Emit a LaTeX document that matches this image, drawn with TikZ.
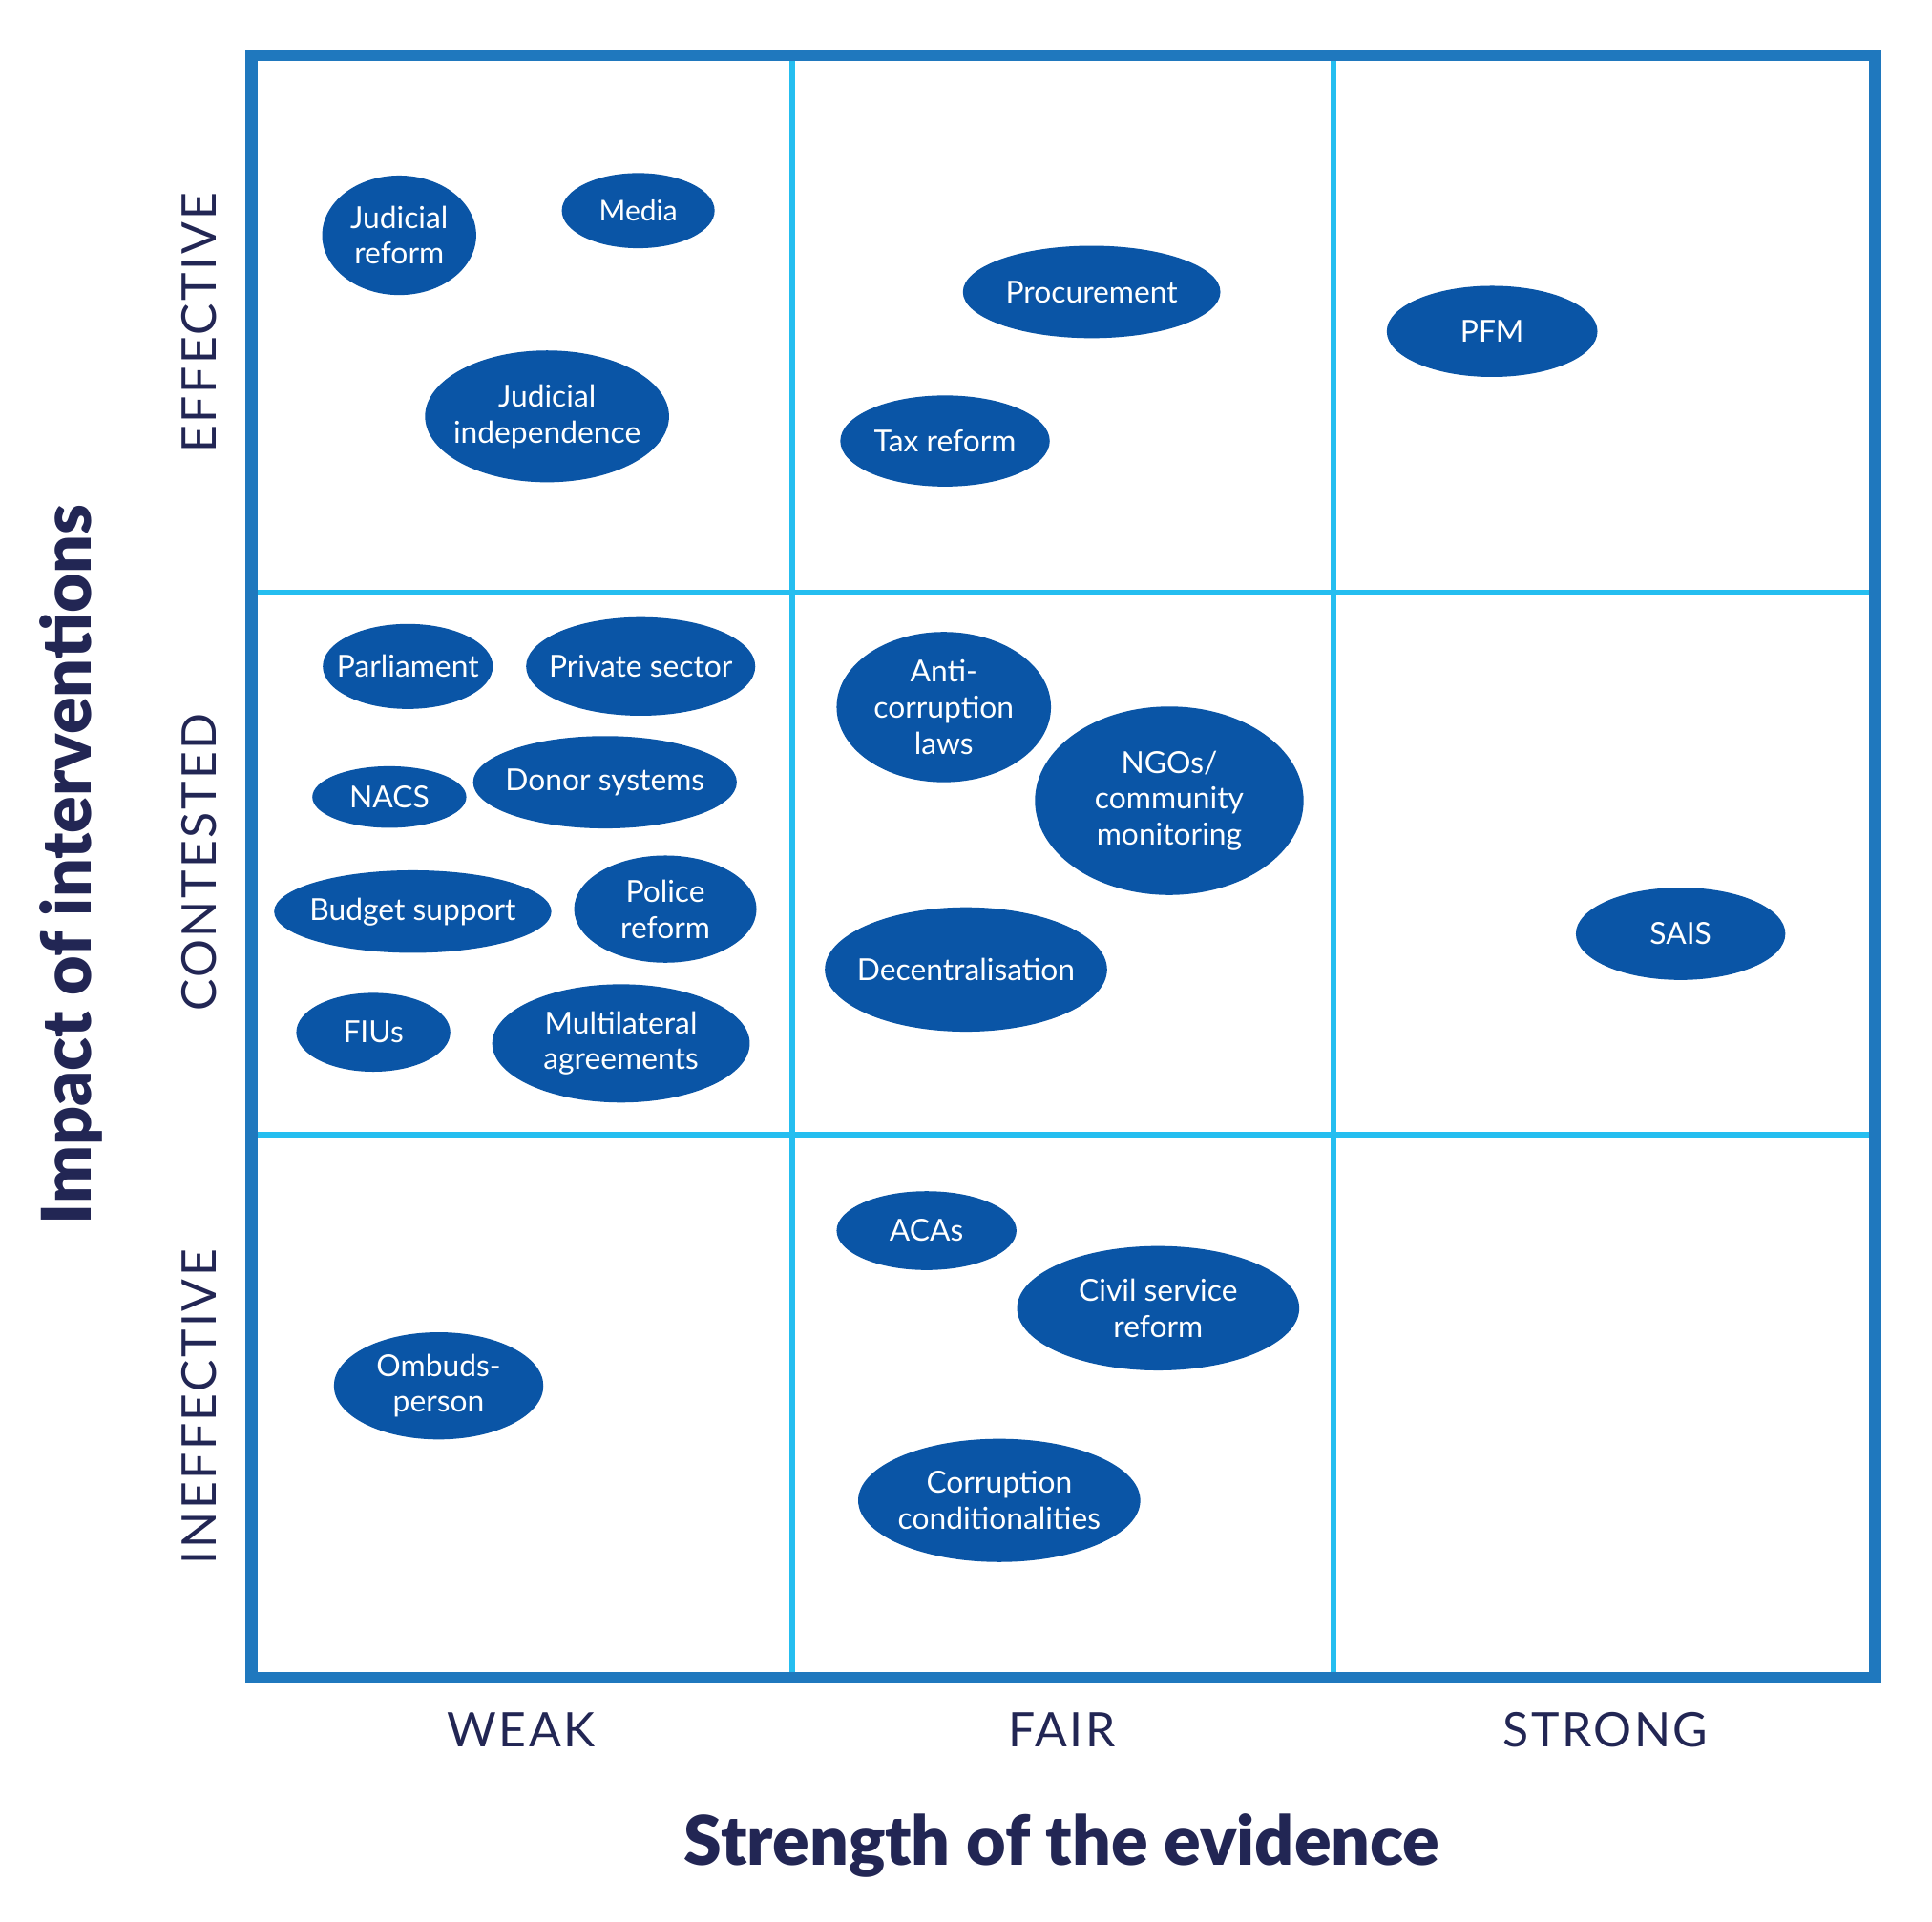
\documentclass[tikz,border=0pt]{standalone}
\usepackage{fontspec}
\setmainfont{Lato}
\newfontfamily\catfont{Lato}[LetterSpace=5]
\newfontfamily\latoblack{Lato Black}
\usetikzlibrary{shapes.geometric}
\definecolor{frameblue}{HTML}{1F78BE}
\definecolor{gridcyan}{HTML}{25BEF0}
\definecolor{blobblue}{HTML}{0A55A6}
\definecolor{navy}{HTML}{222654}
\begin{document}
\begin{tikzpicture}[x=0.01cm,y=-0.01cm,
  blob/.style 2 args={ellipse, fill=blobblue, draw=none, inner sep=0pt, minimum width=#1*0.01cm, minimum height=#2*0.01cm},
  lbl/.style={text=white, font=\fontsize{7}{8.3}\selectfont, align=center, inner sep=0pt},
  cat/.style={text=navy, font=\catfont\fontsize{11}{13}\selectfont, inner sep=0pt},
  axistitle/.style={text=navy, font=\latoblack\fontsize{15.8}{18}\selectfont, inner sep=0pt},
  gridline/.style={draw=gridcyan, line width=1.25pt},
  frameline/.style={draw=frameblue, line width=2.75pt}]
\useasboundingbox (0,0) rectangle (1568,1560);
\fill[white] (0,0) rectangle (1568,1560);
% grid
\coordinate (v1t) at (643,45); \coordinate (v1b) at (643,1362);
\coordinate (v2t) at (1082,45); \coordinate (v2b) at (1082,1362);
\coordinate (h1l) at (204,481); \coordinate (h1r) at (1522,481);
\coordinate (h2l) at (204,921); \coordinate (h2r) at (1522,921);
\draw[gridline] (v1t) -- (v1b);
\draw[gridline] (v2t) -- (v2b);
\draw[gridline] (h1l) -- (h1r);
\draw[gridline] (h2l) -- (h2r);
\draw[frameline] (204,45) rectangle (1522,1362);
% blobs
\node[blob={125}{97}] (jr) at (324,191) {};
\node[lbl] (jr-t) at (jr) {Judicial\\reform};
\node[blob={124}{61}] (media) at (518,171) {};
\node[lbl, font=\fontsize{6.6}{8}\selectfont] (media-t) at (media) {Media};
\node[blob={198}{107}] (ji) at (444,338) {};
\node[lbl] (ji-t) at (ji) {Judicial\\independence};
\node[blob={209}{75}] (proc) at (886,237) {};
\node[lbl] (proc-t) at (proc) {Procurement};
\node[blob={170}{74}] (tax) at (767,358) {};
\node[lbl] (tax-t) at (tax) {Tax reform};
\node[blob={171}{74}] (pfm) at (1211,269) {};
\node[lbl] (pfm-t) at (pfm) {PFM};
\node[blob={138}{69}] (parl) at (331,541) {};
\node[lbl] (parl-t) at (parl) {Parliament};
\node[blob={186}{80}] (priv) at (520,541) {};
\node[lbl] (priv-t) at (priv) {Private sector};
\node[blob={125}{50}] (nacs) at (316,647) {};
\node[lbl] (nacs-t) at (nacs) {NACS};
\node[blob={214}{75}] (donor) at (491,635) {};
\node[lbl] (donor-t) at (donor) {Donor systems};
\node[blob={225}{67}] (budget) at (335,740) {};
\node[lbl] (budget-t) at (budget) {Budget support};
\node[blob={148}{87}] (police) at (540,738) {};
\node[lbl] (police-t) at (police) {Police\\reform};
\node[blob={125}{64}] (fius) at (303,838) {};
\node[lbl] (fius-t) at (fius) {FIUs};
\node[blob={209}{96}] (multi) at (504,847) {};
\node[lbl] (multi-t) at (multi) {Multilateral\\agreements};
\node[blob={174}{122}] (anti) at (766,574) {};
\node[lbl] (anti-t) at (anti) {Anti-\\corruption\\laws};
\node[blob={218}{153}] (ngo) at (949,650) {};
\node[lbl] (ngo-t) at (ngo) {NGOs/\\community\\monitoring};
\node[blob={229}{101}] (decent) at (784,787) {};
\node[lbl] (decent-t) at (decent) {Decentralisation};
\node[blob={170}{75}] (sais) at (1364,758) {};
\node[lbl] (sais-t) at (sais) {SAIS};
\node[blob={146}{64}] (acas) at (752,999) {};
\node[lbl] (acas-t) at (acas) {ACAs};
\node[blob={229}{101}] (civil) at (940,1062) {};
\node[lbl] (civil-t) at (civil) {Civil service\\reform};
\node[blob={170}{87}] (omb) at (356,1125) {};
\node[lbl] (omb-t) at (omb) {Ombuds-\\person};
\node[blob={229}{100}] (cond) at (811,1218) {};
\node[lbl] (cond-t) at (cond) {Corruption\\conditionalities};
% category labels
\node[cat, rotate=90] (eff) at (162,262) {EFFECTIVE};
\node[cat, rotate=90] (cont) at (162,700) {CONTESTED};
\node[cat, rotate=90] (ineff) at (162,1142) {INEFFECTIVE};
\node[cat] (weak) at (423,1404) {WEAK};
\node[cat] (fair) at (862,1404) {FAIR};
\node[cat] (strong) at (1303,1404) {STRONG};
% axis titles
\node[axistitle] (xtitle) at (862,1498) {Strength of the evidence};
\node[axistitle, rotate=90] (ytitle) at (58,702) {Impact of interventions};
\end{tikzpicture}
\end{document}
